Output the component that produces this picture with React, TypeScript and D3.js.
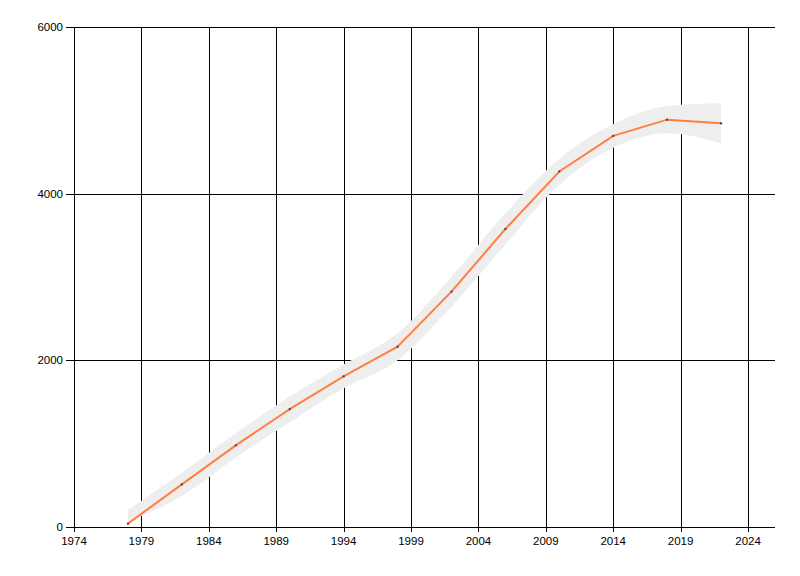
import React from "react";
import * as d3 from "d3";

const years = [1978, 1982, 1986, 1990, 1994, 1998, 2002, 2006, 2010, 2014, 2018, 2022];
const values = [40, 512, 980, 1414, 1808, 2164, 2824, 3576, 4266, 4694, 4888, 4844];
const bandLower = [66, 372, 835, 1258, 1664, 2002, 2644, 3388, 4106, 4552, 4724, 4604];
const bandUpper = [204, 650, 1125, 1565, 1950, 2326, 3004, 3764, 4420, 4832, 5052, 5084];
const xTicks = [1974, 1979, 1984, 1989, 1994, 1999, 2004, 2009, 2014, 2019, 2024];
const yTicks = [0, 2000, 4000, 6000];

const W = 800;
const H = 576;

export default function App() {
  const x = d3.scaleLinear().domain([1974, 2026]).range([74, 775]);
  const y = d3.scaleLinear().domain([0, 6000]).range([527, 27]);
  const px = (v: number) => Math.round(v) + 0.5;

  const idx = d3.range(years.length);
  const area = d3
    .area<number>()
    .x((i) => x(years[i]))
    .y0((i) => y(bandLower[i]))
    .y1((i) => y(bandUpper[i]))
    .curve(d3.curveMonotoneX);
  const line = d3
    .line<number>()
    .x((i) => x(years[i]))
    .y((i) => y(values[i]));

  const font = "'Liberation Sans', Arial, sans-serif";
  const x0 = x.range()[0];
  const x1 = x.range()[1];
  const yb = y(0);
  const yt = y(6000);

  return (
    <svg
      width={W}
      height={H}
      style={{ position: "absolute", left: 0, top: 0, background: "#fff" }}
    >
      <rect x={0} y={0} width={W} height={H} fill="#fff" />
      {xTicks.map((t) => (
        <g key={"xt" + t}>
          <line x1={px(x(t))} x2={px(x(t))} y1={yt} y2={yb + 5} stroke="#000" strokeWidth={1} />
          <text
            x={x(t)}
            y={yb + 18}
            textAnchor="middle"
            fontFamily={font}
            fontSize={11.5}
            fill="#000"
          >
            {t}
          </text>
        </g>
      ))}
      {yTicks.map((t) => (
        <g key={"yt" + t}>
          <line x1={x0 - 8} x2={x1} y1={px(y(t))} y2={px(y(t))} stroke="#000" strokeWidth={1} />
          <text
            x={x0 - 11}
            y={y(t) + 4}
            textAnchor="end"
            fontFamily={font}
            fontSize={11.5}
            fill="#000"
          >
            {t}
          </text>
        </g>
      ))}
      <path d={area(idx) ?? ""} fill="#eeeeee" />
      <path d={line(idx) ?? ""} fill="none" stroke="#ff7f40" strokeWidth={2} />
      {idx.map((i) => (
        <rect
          key={"p" + i}
          x={x(years[i]) - 1}
          y={y(values[i]) - 1}
          width={2}
          height={2}
          fill="#444"
        />
      ))}
    </svg>
  );
}
